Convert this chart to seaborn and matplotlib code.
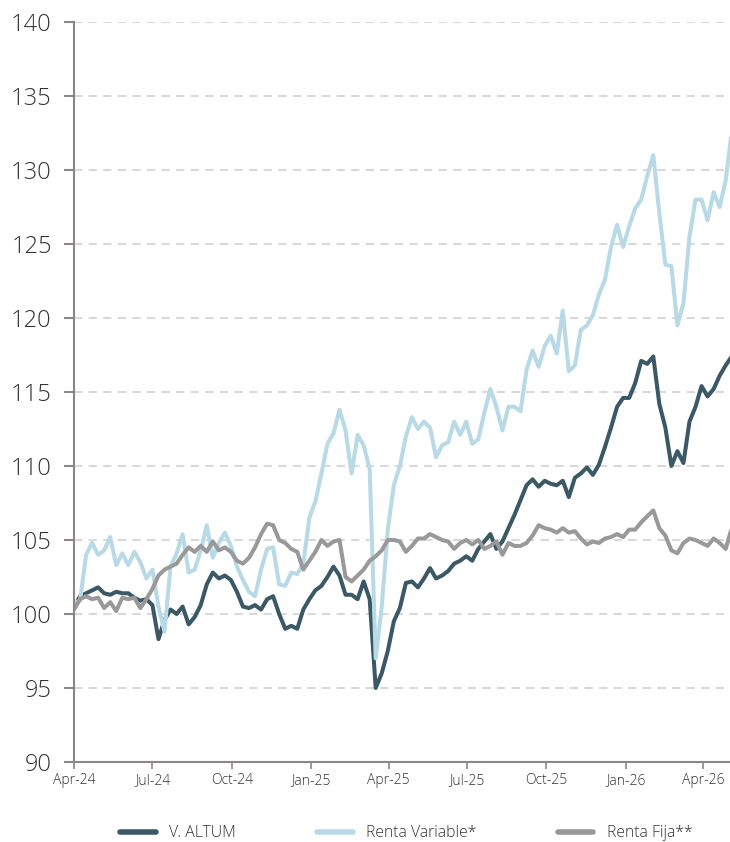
import matplotlib
matplotlib.use("Agg")
import matplotlib.pyplot as plt
import matplotlib.dates as mdates
from matplotlib.lines import Line2D
import pandas as pd
import seaborn as sns

# weekly values (base 100 = Apr-24)
dates = pd.date_range("2024-04-01", periods=110, freq="7D")

altum = [100.5, 101.2, 101.4, 101.6, 101.8, 101.4, 101.3, 101.5, 101.4, 101.4,
         101.1, 100.9, 101.0, 100.6, 98.3, 99.6, 100.3, 100.0, 100.5, 99.3,
         99.8, 100.6, 102.0, 102.8, 102.4, 102.6, 102.3, 101.5, 100.5, 100.4,
         100.6, 100.3, 101.0, 101.2, 100.0, 99.0, 99.2, 99.0, 100.3, 101.0,
         101.6, 101.9, 102.5, 103.2, 102.6, 101.3, 101.3, 101.0, 102.2, 101.0,
         95.0, 96.0, 97.5, 99.5, 100.4, 102.1, 102.2, 101.8, 102.4, 103.1,
         102.4, 102.6, 102.9, 103.4, 103.6, 103.9, 103.6, 104.4, 104.9, 105.4,
         104.4, 104.9, 105.8, 106.7, 107.7, 108.7, 109.1, 108.6, 109.0, 108.8,
         108.7, 109.0, 107.9, 109.2, 109.5, 109.9, 109.4, 110.1, 111.3, 112.6,
         114.0, 114.6, 114.6, 115.6, 117.1, 116.9, 117.4, 114.2, 112.6, 110.0,
         111.0, 110.2, 113.0, 114.0, 115.4, 114.7, 115.2, 116.1, 116.8, 117.4]

renta_variable = [100.8, 100.9, 104.0, 104.8, 104.0, 104.3, 105.2, 103.3, 104.1, 103.3,
                  104.2, 103.5, 102.4, 103.0, 100.5, 98.8, 103.2, 104.1, 105.4, 102.8,
                  103.0, 104.3, 106.0, 103.8, 104.8, 105.5, 104.6, 103.2, 102.3, 101.5,
                  101.2, 103.0, 104.4, 104.5, 102.0, 101.9, 102.8, 102.7, 103.4, 106.5,
                  107.6, 109.5, 111.5, 112.2, 113.8, 112.4, 109.5, 112.1, 111.4, 109.8,
                  97.0, 100.5, 105.7, 108.7, 110.0, 112.0, 113.3, 112.5, 113.0, 112.6,
                  110.6, 111.4, 111.6, 113.0, 112.1, 113.0, 111.5, 111.8, 113.6, 115.2,
                  114.0, 112.4, 114.0, 114.0, 113.7, 116.5, 117.8, 116.7, 118.1, 118.8,
                  117.6, 120.5, 116.4, 116.8, 119.2, 119.5, 120.2, 121.6, 122.6, 124.8,
                  126.3, 124.8, 126.2, 127.4, 128.0, 129.6, 131.0, 127.1, 123.6, 123.5,
                  119.5, 121.0, 125.5, 128.0, 128.0, 126.6, 128.5, 127.5, 129.3, 132.6]

renta_fija = [100.3, 101.0, 101.2, 101.0, 101.1, 100.4, 100.8, 100.2, 101.1, 101.0,
              101.1, 100.4, 101.0, 101.7, 102.6, 103.0, 103.2, 103.4, 104.0, 104.5,
              104.2, 104.6, 104.2, 104.9, 104.3, 104.5, 104.2, 103.6, 103.4, 103.8,
              104.5, 105.4, 106.1, 106.0, 105.0, 104.8, 104.4, 104.2, 103.0, 103.6,
              104.2, 105.0, 104.6, 104.9, 105.0, 102.5, 102.2, 102.6, 103.0, 103.6,
              103.9, 104.3, 105.0, 105.0, 104.9, 104.2, 104.6, 105.1, 105.1, 105.4,
              105.2, 105.0, 104.9, 104.4, 104.8, 105.0, 104.7, 105.0, 104.4, 104.6,
              104.9, 104.0, 104.8, 104.6, 104.6, 104.8, 105.3, 106.0, 105.8, 105.7,
              105.5, 105.8, 105.5, 105.6, 105.1, 104.7, 104.9, 104.8, 105.1, 105.2,
              105.4, 105.2, 105.7, 105.7, 106.2, 106.6, 107.0, 105.8, 105.3, 104.3,
              104.1, 104.8, 105.1, 105.0, 104.8, 104.6, 105.1, 104.8, 104.4, 105.8]

series_names = ["V. ALTUM", "Renta Variable*", "Renta Fija**"]
colors = ["#3b5866", "#b7dae6", "#999999"]

df = pd.DataFrame({"fecha": dates,
                   "V. ALTUM": altum,
                   "Renta Variable*": renta_variable,
                   "Renta Fija**": renta_fija})
df = df.melt(id_vars="fecha", var_name="serie", value_name="valor")

sns.set_style("white")
plt.rcParams["font.family"] = ["Open Sans", "DejaVu Sans"]
plt.rcParams["font.weight"] = 300

fig = plt.figure(figsize=(7.3, 8.42), dpi=100)
ax = fig.add_axes([74 / 730, 80 / 842, 1 - 74 / 730, 740 / 842])

sns.lineplot(data=df, x="fecha", y="valor", hue="serie", hue_order=series_names,
             palette=colors, linewidth=2.9, ax=ax, legend=False)

ax.set_ylim(90, 140)
ax.set_yticks(range(90, 141, 5))
ax.set_xlim(pd.Timestamp("2024-04-01"), pd.Timestamp("2026-05-02"))
ax.xaxis.set_major_locator(mdates.MonthLocator(bymonth=[1, 4, 7, 10]))
ax.xaxis.set_major_formatter(mdates.DateFormatter("%b-%y"))
ax.set_xlabel("")
ax.set_ylabel("")

ax.yaxis.grid(True, linestyle=(0, (4, 3)), color="#d9d9d9", linewidth=1.5)
ax.xaxis.grid(False)
ax.set_axisbelow(True)

for side in ["top", "right"]:
    ax.spines[side].set_visible(False)
for side in ["left", "bottom"]:
    ax.spines[side].set_color("#8c8686")
    ax.spines[side].set_linewidth(1.5)

ax.tick_params(axis="y", direction="out", length=7, width=1.5, color="#8c8686",
               labelsize=17, labelcolor="#333333", pad=9, left=True)
ax.tick_params(axis="x", direction="out", length=5, width=1.2, color="#8c8686",
               labelsize=10, labelcolor="#333333", pad=3, bottom=True)

handles = [Line2D([0], [0], color=c, linewidth=4) for c in colors]
fig.legend(handles, series_names, loc="center left", bbox_to_anchor=(114 / 730, 9 / 842),
           borderaxespad=0, ncol=3, frameon=False, fontsize=11.3, handlelength=2.25,
           handletextpad=0.85, columnspacing=5.2, labelcolor="#333333")

fig.savefig("out.png", dpi=100)
